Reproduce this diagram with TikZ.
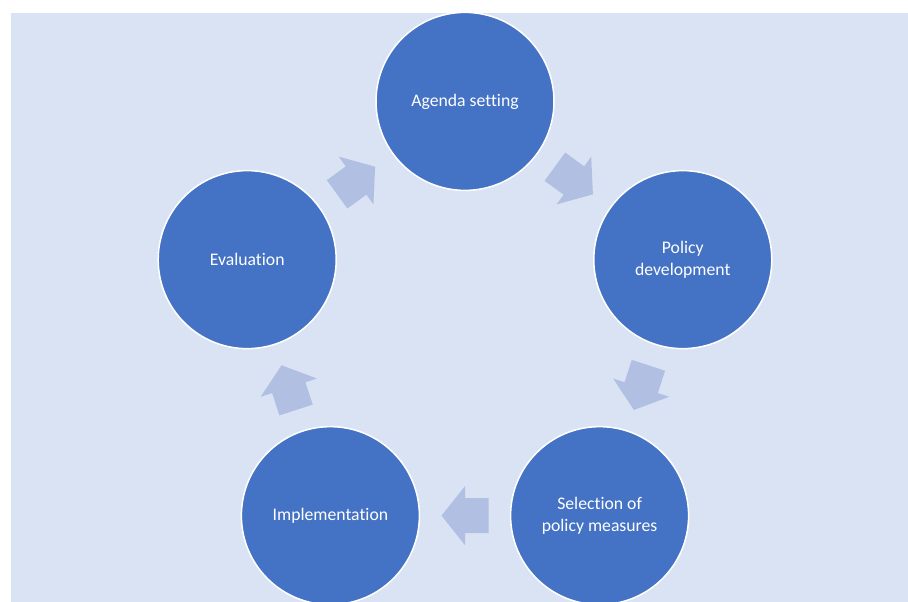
\documentclass[tikz,border=0pt]{standalone}
\usepackage{fontspec}
\setmainfont{Carlito}[Ligatures={NoCommon}]
\usetikzlibrary{calc}

\definecolor{stageblue}{HTML}{4472C4}
\definecolor{panelblue}{HTML}{DAE3F3}
\definecolor{arrowblue}{HTML}{B1BFE2}

\begin{document}
\begin{tikzpicture}[x=1pt, y=1pt,
    stage/.style={circle, fill=stageblue, draw=white, line width=1.5pt,
        minimum size=178pt, inner sep=0pt, text=white, align=center,
        font=\fontsize{17.7}{21.6}\selectfont},
    cyclearrow/.style={fill=arrowblue}]
    \useasboundingbox (0,0) rectangle (908,602);

    % Fons del diagrama
    \fill[panelblue] (11,0) rectangle (908,589);

    % Centre del cicle (radi 229)
    \coordinate (hub) at (465,271.6);

    % Les cinc etapes
    \node[stage] (agenda) at ($(hub)+(90:229)$) {Agenda setting};
    \node[stage] (policy) at ($(hub)+(18:229)$) {Policy\\development};
    \node[stage] (selection) at ($(hub)+(-54:229)$) {Selection of\\policy measures};
    \node[stage] (implementation) at ($(hub)+(-126:229)$) {Implementation};
    \node[stage] (evaluation) at ($(hub)+(162:229)$) {Evaluation};

    % Fletxes entre etapes (al mig de cada parella)
    \foreach \from/\to/\ang in {evaluation/agenda/36, agenda/policy/-36,
        policy/selection/-108, selection/implementation/180,
        implementation/evaluation/108}
        \fill[cyclearrow, shift={($(\from)!0.5!(\to)$)}, rotate=\ang]
            (-23.5,-17.5) -- (0,-17.5) -- (0,-29.5) -- (23.5,0)
            -- (0,29.5) -- (0,17.5) -- (-23.5,17.5) -- cycle;
\end{tikzpicture}
\end{document}
